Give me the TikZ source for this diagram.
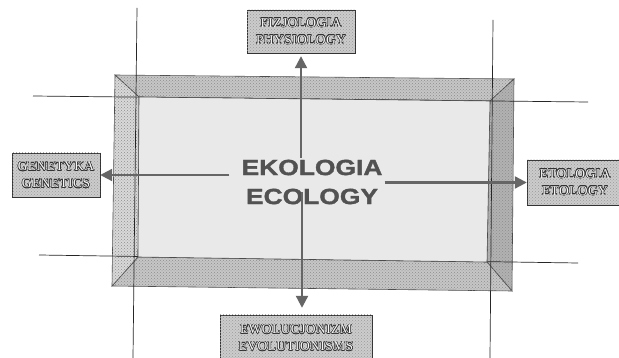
\documentclass[tikz,border=0pt]{standalone}
\usepackage{fontspec}
\usepackage{contour}
\setmainfont{Liberation Serif}
\newfontfamily\boxfont[LetterSpace=3]{Liberation Serif}
\newfontfamily\ecofont[FakeStretch=1.2,FakeBold=1.6]{Liberation Sans Bold}
\usetikzlibrary{arrows.meta,positioning,patterns}
\contourlength{0.5pt}
\newcommand{\olt}[1]{\contour{black!80}{#1}}

\begin{document}
\begin{tikzpicture}[
  x=1pt,y=-1pt,
  band/.style={draw=black!70,line width=0.6pt,
    postaction={pattern=crosshatch dots,pattern color=black!45}},
  guide/.style={draw=black!85,line width=0.7pt},
  field/.style={draw=black!80,fill=gray!40,align=center,inner sep=0pt,
    postaction={pattern=crosshatch dots,pattern color=black!40},
    text=gray!8,font=\boxfont\fontsize{13.5}{17}\selectfont},
  core/.style={align=center,inner sep=2pt,text=black!68,
    font=\ecofont\fontsize{22}{29}\selectfont},
  arrow/.style={-{Triangle[length=12pt,width=12pt]},line width=2.2pt,draw=black!60,
    color=black!60}
]
  \useasboundingbox (0,0) rectangle (619,358);
  \fill[white] (0,0) rectangle (619,358);

  \coordinate (otl) at (115,75);  \coordinate (otr) at (514,79);
  \coordinate (obr) at (512,291); \coordinate (obl) at (112,286);
  \coordinate (itl) at (139,97);  \coordinate (itr) at (490,101);
  \coordinate (ibr) at (487,262); \coordinate (ibl) at (138,257);

  \draw[band,fill=gray!45] (otl) -- (otr) -- (itr) -- (itl) -- cycle;
  \draw[band,fill=gray!60] (otr) -- (obr) -- (ibr) -- (itr) -- cycle;
  \draw[band,fill=gray!45] (obr) -- (obl) -- (ibl) -- (ibr) -- cycle;
  \draw[band,fill=gray!30] (obl) -- (otl) -- (itl) -- (ibl) -- cycle;

  \draw[guide] (137,8) -- (133,358);
  \draw[guide] (493,20) -- (490,358);
  \draw[guide] (33,96) -- (588,102);
  \draw[guide] (39,255) -- (578,263);

  \draw[draw=black!70,line width=0.6pt,fill=gray!17] (itl) -- (itr) -- (ibr) -- (ibl) -- cycle;

  \node[core] (eco) at (312,182) {EKOLOGIA\\ECOLOGY};
  \node[field,minimum width=108pt,minimum height=43pt] (physio) at (301,31.5)
    {\olt{FIZJOLOGIA}\\\olt{PHYSIOLOGY}};
  \node[field,minimum width=88pt,minimum height=44pt] (gen) at (56,175)
    {\olt{GENETYKA}\\\olt{GENETICS}};
  \node[field,minimum width=96pt,minimum height=45pt] (eto) at (575,182.5)
    {\olt{ETOLOGIA}\\\olt{ETOLOGY}};
  \node[field,minimum width=152pt,minimum height=46pt] (evo) at (296,338)
    {\olt{EWOLUCJONIZM}\\\olt{EVOLUTIONISMS}};

  \draw[arrow,shorten >=3pt] (physio.south |- eco.north) -- (physio.south);
  \draw[arrow] ([xshift=-10pt]eco.west |- gen.east) -- (gen.east);
  \draw[arrow] (eco.east |- eto.west) -- (eto.west);
  \draw[arrow,shorten >=7pt] ([xshift=6pt,yshift=14pt]eco.south -| evo.north)
    -- ([xshift=6pt]evo.north);
\end{tikzpicture}
\end{document}
